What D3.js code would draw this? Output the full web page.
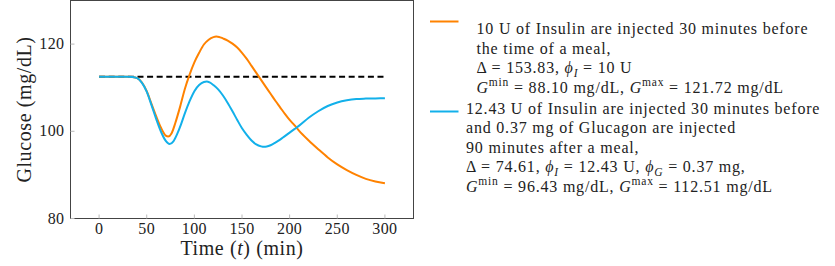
<!DOCTYPE html>
<html>
<head>
<meta charset="utf-8">
<script src="https://cdn.jsdelivr.net/npm/d3@7"></script>
<style>
  body { margin: 0; background: #fff; }
  svg text { font-family: "Liberation Serif", "DejaVu Serif", serif; fill: #222; }
</style>
</head>
<body>
<svg id="chart" width="835" height="266"></svg>
<script>
// time axis ticks and glucose ticks
var xTicks = [0, 50, 100, 150, 200, 250, 300];
var yTicks = [80, 100, 120];
var baseline = 112.5;

// 10 U insulin only
var insulinT = [0, 10, 20, 30, 35, 40, 45, 50, 55, 60, 65, 70, 72.5, 76, 80, 85, 90, 95, 100, 105, 110, 115, 120, 123, 126, 130, 135, 140, 145, 150, 155, 160, 165, 170, 175, 180, 185, 190, 195, 200, 205, 210, 220, 230, 240, 250, 260, 270, 280, 290, 300];
var insulinG = [112.5, 112.5, 112.5, 112.5, 112.45, 112.2, 111.2, 109.2, 106.3, 103.4, 100.8, 99.0, 98.8, 99.5, 101.9, 105.6, 109.7, 113.0, 115.8, 118.0, 119.9, 121.0, 121.6, 121.72, 121.65, 121.3, 120.8, 120.1, 119.2, 118.0, 116.6, 115.0, 113.4, 111.8, 110.2, 108.6, 107.0, 105.5, 104.0, 102.6, 101.4, 100.1, 97.9, 95.9, 94.0, 92.4, 91.1, 90.0, 89.1, 88.5, 88.1];

// 12.43 U insulin + 0.37 mg glucagon
var comboT = [0, 10, 20, 30, 35, 40, 45, 50, 55, 60, 65, 70, 74, 78, 82, 86, 90, 95, 100, 105, 110, 113, 116, 120, 125, 130, 135, 140, 145, 150, 155, 160, 165, 170, 173, 176, 180, 185, 190, 195, 200, 205, 210, 220, 230, 240, 250, 260, 270, 280, 290, 300];
var comboG = [112.5, 112.5, 112.5, 112.5, 112.45, 112.2, 111.1, 109.1, 106.0, 102.8, 99.9, 97.8, 97.1, 97.7, 99.4, 101.6, 104.1, 106.9, 109.2, 110.6, 111.3, 111.4, 111.2, 110.6, 109.6, 108.2, 106.5, 104.6, 102.6, 100.7, 99.2, 97.9, 97.0, 96.55, 96.43, 96.5, 96.8, 97.4, 98.1, 98.9, 99.7, 100.5, 101.3, 103.1, 104.6, 105.8, 106.6, 107.1, 107.4, 107.5, 107.55, 107.6];

// legend text: each line is a list of [text, style]
var insulinLegend = [
  [["10 U of Insulin are injected 30 minutes before", ""]],
  [["the time of a meal,", ""]],
  [["\u0394 = 153.83, ", ""], ["\u03d5", "i"], ["I", "isub"], [" = 10 U", ""]],
  [["G", "i"], ["min", "sup"], [" = 88.10 mg/dL, ", ""], ["G", "i"], ["max", "sup"], [" = 121.72 mg/dL", ""]]
];
var comboLegend = [
  [["12.43 U of Insulin are injected 30 minutes before", ""]],
  [["and 0.37 mg of Glucagon are injected", ""]],
  [["90 minutes after a meal,", ""]],
  [["\u0394 = 74.61, ", ""], ["\u03d5", "i"], ["I", "isub"], [" = 12.43 U, ", ""], ["\u03d5", "i"], ["G", "isub"], [" = 0.37 mg,", ""]],
  [["G", "i"], ["min", "sup"], [" = 96.43 mg/dL, ", ""], ["G", "i"], ["max", "sup"], [" = 112.51 mg/dL", ""]]
];

var orange = "#ff8200", blue = "#12b0ea";

var svg = d3.select("#chart");
var plotL = 70.5, plotR = 413.5, plotT = 0.5, plotB = 218.5;

var x = d3.scaleLinear().domain([-30, 330]).range([plotL, plotR]);
var y = d3.scaleLinear().domain([80, 130]).range([plotB, plotT]);

// frame
svg.append("rect")
  .attr("x", plotL).attr("y", plotT)
  .attr("width", plotR - plotL).attr("height", plotB - plotT)
  .attr("fill", "none").attr("stroke", "#444").attr("stroke-width", 1);

// ticks (inward, light gray)
svg.append("g").selectAll("line").data(xTicks).enter().append("line")
  .attr("x1", function(d){ return x(d) }).attr("x2", function(d){ return x(d) })
  .attr("y1", plotB).attr("y2", plotB - 4)
  .attr("stroke", "#bbb");
svg.append("g").selectAll("line").data(yTicks).enter().append("line")
  .attr("x1", plotL).attr("x2", plotL + 4)
  .attr("y1", function(d){ return y(d) }).attr("y2", function(d){ return y(d) })
  .attr("stroke", "#bbb");

svg.append("g").selectAll("text").data(xTicks).enter().append("text")
  .attr("x", function(d){ return x(d) }).attr("y", 233.5)
  .attr("text-anchor", "middle").style("font-size", "16px").style("letter-spacing", "0.4px")
  .text(function(d){ return d });
svg.append("g").selectAll("text").data(yTicks).enter().append("text")
  .attr("x", 64.5).attr("y", function(d){ return y(d) + 5 })
  .attr("text-anchor", "end").style("font-size", "16px").style("letter-spacing", "0.4px")
  .text(function(d){ return d });

// axis titles
var xt = svg.append("text").attr("x", (plotL + plotR) / 2).attr("y", 255)
  .attr("text-anchor", "middle").style("font-size", "20px").style("letter-spacing", "0.6px");
xt.append("tspan").text("Time (");
xt.append("tspan").style("font-style", "italic").text("t");
xt.append("tspan").text(") (min)");

svg.append("text")
  .attr("transform", "translate(31," + (plotT + plotB) / 2 + ") rotate(-90)")
  .attr("text-anchor", "middle").style("font-size", "20px").style("letter-spacing", "0.6px")
  .text("Glucose (mg/dL)");

// baseline
svg.append("line")
  .attr("x1", x(0)).attr("x2", x(300))
  .attr("y1", y(baseline)).attr("y2", y(baseline))
  .attr("stroke", "#000").attr("stroke-width", 2)
  .attr("stroke-dasharray", "6,3.6");

var line = d3.line()
  .x(function(d){ return x(d[0]) })
  .y(function(d){ return y(d[1]) })
  .curve(d3.curveMonotoneX);

svg.append("path").datum(d3.zip(insulinT, insulinG))
  .attr("d", line).attr("fill", "none")
  .attr("stroke", orange).attr("stroke-width", 2);
svg.append("path").datum(d3.zip(comboT, comboG))
  .attr("d", line).attr("fill", "none")
  .attr("stroke", blue).attr("stroke-width", 2);

// legend
function legendBlock(lines, color, lineY, textX, firstBase, step)
{
  svg.append("line")
    .attr("x1", 430).attr("x2", 458.5)
    .attr("y1", lineY).attr("y2", lineY)
    .attr("stroke", color).attr("stroke-width", 2);

  lines.forEach(function(parts, i){
    var t = svg.append("text")
      .attr("x", textX).attr("y", firstBase + i * step)
      .style("font-size", "16px").style("letter-spacing", "0.8px");
    var shift = 0;  // current baseline offset, undone on the next piece
    parts.forEach(function(p){
      var s = t.append("tspan").text(p[0]);
      var target = 0;
      if (p[1] == "i") s.style("font-style", "italic");
      if (p[1] == "isub") { s.style("font-style", "italic").style("font-size", "11.5px"); target = 3.5; }
      if (p[1] == "sup") { s.style("font-size", "11.5px"); target = -6.5; }
      if (target - shift != 0) s.attr("dy", target - shift);
      shift = target;
    });
  });
}

legendBlock(insulinLegend, orange, 21.5, 476.5, 34, 19.6);
legendBlock(comboLegend, blue, 111.5, 466, 114, 19.4);
</script>
</body>
</html>
